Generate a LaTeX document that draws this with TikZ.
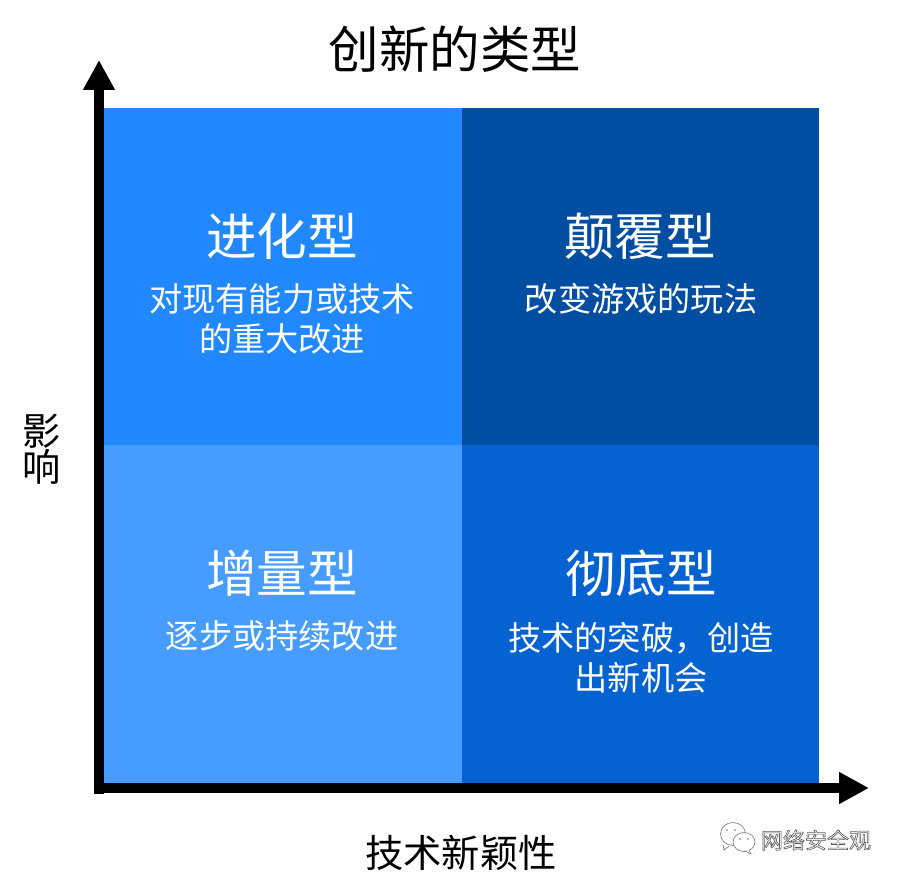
\documentclass[tikz,border=0pt]{standalone}
\usepackage{fontspec}
\setmainfont{Noto Sans CJK SC}
\usetikzlibrary{arrows.meta}
\definecolor{qa}{HTML}{2288FF}
\definecolor{qb}{HTML}{004EA2}
\definecolor{qc}{HTML}{479DFF}
\definecolor{qd}{HTML}{0563D1}
\tikzset{
  quad/.style={minimum width=#1,minimum height=337.5pt,inner sep=0pt,outer sep=0pt,draw=none,anchor=center},
  heading/.style={text=white,inner sep=0pt,font=\fontsize{50.6}{56}\selectfont},
  subtext/.style={text=white,inner sep=0pt,align=center,font=\fontsize{33.2}{40}\selectfont},
  title/.style={text=black,inner sep=0pt,font=\fontsize{50.5}{56}\selectfont},
  axislabel/.style={text=black,inner sep=0pt,align=center,font=\fontsize{38.3}{34}\selectfont},
  axisline/.style={line width=10pt,draw=black,-{Triangle[length=30pt,width=30pt,sharp]}},
  bubble/.style={draw=black!55,line width=0.6pt,fill=white},
}
\begin{document}
\begin{tikzpicture}[x=1pt,y=-1pt]
\useasboundingbox (0,0) rectangle (901,880);
\node[quad=358pt,fill=qa] (evo) at (283,276.5) {};
\node[quad=357pt,fill=qb] (dis) at (640.5,276.5) {};
\node[quad=358pt,fill=qc] (inc) at (283,614) {};
\node[quad=357pt,fill=qd] (rad) at (640.5,614) {};
\node[title] (t) at (455,49) {创新的类型};
\node[heading] (h1) at (282,236) {进化型};
\node[subtext] (s1) at (282,319) {对现有能力或技术\\的重大改进};
\node[heading] (h2) at (640,236) {颠覆型};
\node[subtext] (s2) at (641,299) {改变游戏的玩法};
\node[heading] (h3) at (282,573) {增量型};
\node[subtext] (s3) at (282,636) {逐步或持续改进};
\node[heading] (h4) at (641,573) {彻底型};
\node[subtext] (s4) at (641,658) {技术的突破，创造\\出新机会};
\node[axislabel] (xl) at (461,853) {技术新颖性};
\node[axislabel] (yl) at (42,449) {影\\响};
\coordinate (o) at (99,794);
\coordinate (ytip) at (99,60);
\coordinate (ox) at (94,788);
\coordinate (xtip) at (869,788);
\draw[axisline] (o) -- (ytip);
\draw[axisline] (ox) -- (xtip);
% watermark
\draw[bubble] (733,834) ellipse (12.5pt and 11.5pt);
\draw[bubble] (723,845) -- (724,850) -- (729,846);
\draw[bubble] (744,842) ellipse (11pt and 9.5pt);
\draw[bubble] (749,850) -- (751,854) -- (745,851);
\fill[black!55] (727,830) circle (.9pt) (735,830) circle (.9pt) (740,839) circle (.9pt) (748,839) circle (.9pt);
\node[inner sep=0pt,text=white,font=\fontsize{22}{24}\selectfont] (wm) at (816,840) {\special{pdf:code 2 Tr 0.6 w 0.35 0.35 0.35 RG}网络安全观\special{pdf:code 0 Tr}};
\end{tikzpicture}
\end{document}
